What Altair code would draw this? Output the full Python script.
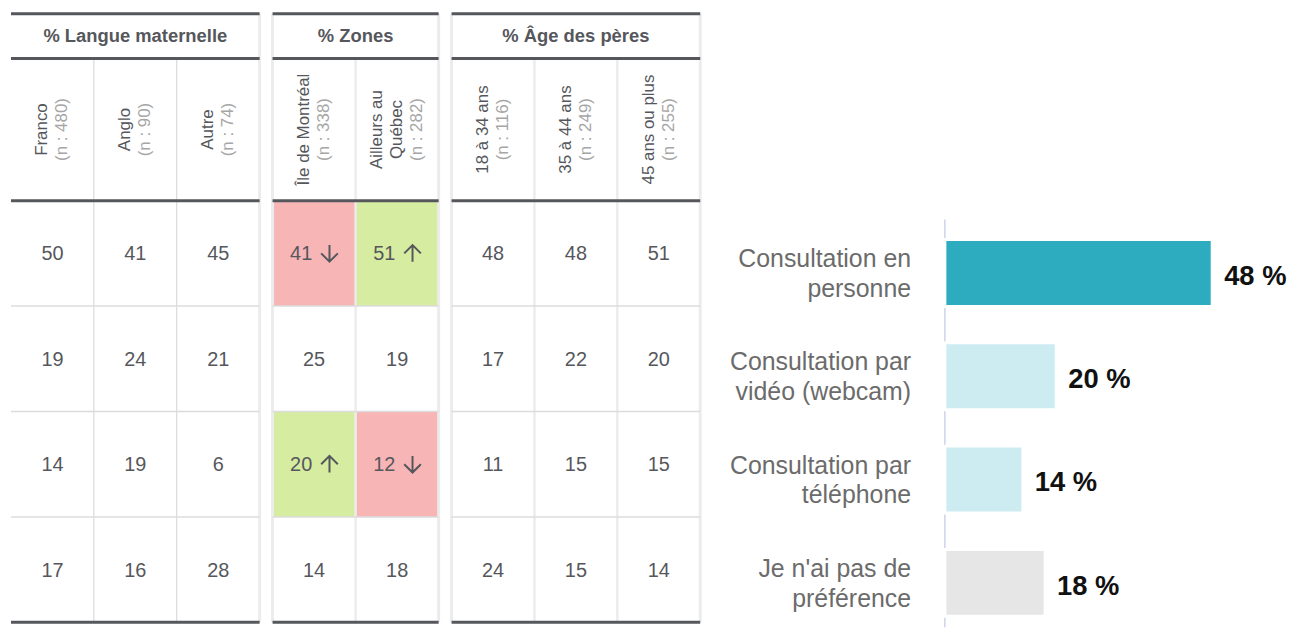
import altair as alt
import pandas as pd

FONT = "Liberation Sans"

# ---------------- data ----------------
group_titles = ["% Langue maternelle", "% Zones", "% Âge des pères"]

lang_cols = ["Franco", "Anglo", "Autre"]
lang_n = [480, 90, 74]
zone_cols = ["Île de Montréal", "Ailleurs au\nQuébec"]
zone_n = [338, 282]
age_cols = ["18 à 34 ans", "35 à 44 ans", "45 ans ou plus"]
age_n = [116, 249, 255]

modes = [
    "Consultation en\npersonne",
    "Consultation par\nvidéo (webcam)",
    "Consultation par\ntéléphone",
    "Je n'ai pas de\npréférence",
]
total_pct = [48, 20, 14, 18]

lang_values = [[50, 41, 45], [19, 24, 21], [14, 19, 6], [17, 16, 28]]
zone_values = [[41, 51], [25, 19], [20, 12], [14, 18]]
age_values = [[48, 48, 51], [17, 22, 20], [11, 15, 15], [24, 15, 14]]

lang_signif = [["", "", ""]] * 4
zone_signif = [["bas", "haut"], ["", ""], ["haut", "bas"], ["", ""]]
age_signif = [["", "", ""]] * 4

bar_colors = ["#2eacbf", "#cdecf1", "#cdecf1", "#e6e6e6"]

# ---------------- layout / style ----------------
H = 612
TITLE_H = 45
HEAD_H = 143
BODY_TOP = TITLE_H + HEAD_H
ROW_H = (H - BODY_TOP) / 4
OUTER = (H / ROW_H - 4) / 2
COL_W = 250 / 3
LH = 20

THICK = "#55575c"
TXT = "#55575c"
NTXT = "#a6a6a6"
PINK = "#f7b5b6"
GREEN = "#d5eca1"
EDGE = "#ececec"
ROWSEP = "#dcdcdc"

ARROW_DOWN = "M0,-1L0,1M-1,0L0,1L1,0"
ARROW_UP = "M0,1L0,-1M-1,0L0,-1L1,0"


def group_chart(title, cols, ns, values, signif, width, edges, inner_color, inner_width):
    xsc = alt.Scale(domain=cols, paddingInner=0, paddingOuter=0)
    ysc = alt.Scale(domain=modes, paddingInner=0, paddingOuter=OUTER, align=1)
    X = alt.X("col:N", scale=xsc, axis=None)
    Y = alt.Y("row:N", scale=ysc, axis=None)
    colw = width / len(cols)

    line_recs = []
    for c, n in zip(cols, ns):
        lines = c.split("\n") + [f"(n : {n})"]
        for idx, t in enumerate(lines):
            line_recs.append({"col": c, "txt": t, "idx": idx, "nl": len(lines)})
    head_df = pd.DataFrame(line_recs)

    recs = []
    for i, m in enumerate(modes):
        for j, c in enumerate(cols):
            recs.append({"row": m, "col": c, "val": values[i][j], "sig": signif[i][j]})
    body_df = pd.DataFrame(recs)
    one = pd.DataFrame({"t": [title]})

    layers = []
    hi = body_df[body_df.sig != ""]
    lo = body_df[body_df.sig == ""]
    if len(hi):
        layers.append(
            alt.Chart(hi).mark_rect().encode(
                x=X, y=Y,
                color=alt.Color("sig:N", scale=alt.Scale(domain=["bas", "haut"], range=[PINK, GREEN]),
                                legend=None),
            )
        )
    # internal vertical separators
    layers.append(
        alt.Chart(pd.DataFrame({"col": cols[1:]})).mark_rule(color=inner_color,
                                                            strokeWidth=inner_width).encode(
            x=alt.X("col:N", scale=xsc, axis=None, bandPosition=0),
            y=alt.value(TITLE_H), y2=alt.value(H),
        )
    )
    # group edges
    for e in edges:
        layers.append(
            alt.Chart(one).mark_rule(color=EDGE, strokeWidth=3).encode(
                x=alt.value(0 if e == "left" else width), y=alt.value(0), y2=alt.value(H)
            )
        )
    # row separators
    layers.append(
        alt.Chart(pd.DataFrame({"row": modes[1:]})).mark_rule(color=ROWSEP, strokeWidth=1.5).encode(
            y=alt.Y("row:N", scale=ysc, axis=None, bandPosition=0),
            x=alt.value(0), x2=alt.value(width),
        )
    )
    # thick lines
    for yy in [0, TITLE_H, BODY_TOP, H]:
        layers.append(
            alt.Chart(one).mark_rule(color=THICK, strokeWidth=3).encode(
                x=alt.value(0), x2=alt.value(width), y=alt.value(yy)
            )
        )
    # group title
    layers.append(
        alt.Chart(one).mark_text(font=FONT, fontSize=18.5, fontWeight="bold", color=TXT,
                                 align="center", baseline="middle").encode(
            x=alt.value(width / 2), y=alt.value(TITLE_H / 2), text="t:N"
        )
    )
    # column headers (rotated), one layer per line slot
    hy = TITLE_H + HEAD_H / 2
    for (idx, nl), sub in head_df.groupby(["idx", "nl"]):
        layers.append(
            alt.Chart(sub).mark_text(font=FONT, fontSize=17,
                                     color=NTXT if idx == nl - 1 else TXT,
                                     angle=270, align="center", baseline="middle",
                                     dy=(idx - (nl - 1) / 2) * LH).encode(
                x=X, y=alt.value(hy), text="txt:N"
            )
        )
    # values
    layers.append(
        alt.Chart(lo).mark_text(font=FONT, fontSize=20, color=TXT, align="center",
                                baseline="middle", dy=1).encode(
            x=X, y=Y, text="val:Q"
        )
    )
    if len(hi):
        layers.append(
            alt.Chart(hi).mark_text(font=FONT, fontSize=20, color=TXT, align="center",
                                    baseline="middle", dy=1, dx=-13).encode(
                x=X, y=Y, text="val:Q"
            )
        )
        layers.append(
            alt.Chart(hi).mark_point(filled=False, color=TXT, opacity=1, strokeWidth=2,
                                     size=280).encode(
                x=X, y=Y, xOffset=alt.value(colw / 2 + 15.5),
                shape=alt.Shape("sig:N", scale=alt.Scale(domain=["bas", "haut"],
                                                         range=[ARROW_DOWN, ARROW_UP]),
                                legend=None),
            )
        )
    return alt.layer(*layers).properties(width=width, height=H)


g1 = group_chart(group_titles[0], lang_cols, lang_n, lang_values, lang_signif,
                 3 * COL_W, ["right"], "#d2d2d2", 1)
g2 = group_chart(group_titles[1], zone_cols, zone_n, zone_values, zone_signif,
                 167, ["left", "right"], EDGE, 2.5)
g3 = group_chart(group_titles[2], age_cols, age_n, age_values, age_signif,
                 3 * COL_W, ["left", "right"], EDGE, 2.5)

# ---------------- bar chart ----------------
BAR_W = 568
BAR_H = 617
X0 = 233
bars_df = pd.DataFrame({"mode": modes, "pct": total_pct, "lab": [f"{v} %" for v in total_pct]})
xsc_b = alt.Scale(domain=[0, 60], rangeMin=X0, rangeMax=X0 + 336)
bx = alt.X("pct:Q", scale=xsc_b, axis=None)
by = alt.Y("mode:N", scale=alt.Scale(domain=modes, range=[196, 637], paddingInner=0.353, paddingOuter=0.3),
           axis=None)
one_b = pd.DataFrame({"t": [0]})

axis_line = alt.Chart(one_b).mark_rule(color="#cdd4ea", strokeWidth=1.5).encode(
    x=alt.X("t:Q", scale=xsc_b, axis=None),
    y=alt.value(207), y2=alt.value(BAR_H),
)
bars = alt.Chart(bars_df).mark_bar(stroke="white", strokeWidth=3).encode(
    x=bx, y=by,
    color=alt.Color("mode:N", scale=alt.Scale(domain=modes, range=bar_colors), legend=None),
)
cat_labels = alt.Chart(bars_df).mark_text(font=FONT, fontSize=25, lineHeight=30, color="#6b6b6b",
                                          align="right", baseline="middle", dx=-34, dy=-14,
                                          lineBreak="\n").encode(
    x=alt.value(X0), y=by, text="mode:N"
)
val_labels = alt.Chart(bars_df).mark_text(font=FONT, fontSize=27.5, fontWeight="bold", color="#111111",
                                          align="left", baseline="middle", dx=12, dy=4).encode(
    x=bx, y=by, text="lab:N"
)
bar_chart = alt.layer(axis_line, bars, cat_labels, val_labels).properties(width=BAR_W, height=BAR_H)

chart = alt.hconcat(g1, g2, g3, bar_chart, spacing=13, bounds="flush").resolve_scale(
    color="independent", shape="independent"
).properties(
    padding={"left": 1, "top": 2, "right": 0, "bottom": 0}
).configure_view(strokeWidth=0)

chart.save("out.html", embed_options={"renderer": "svg", "actions": False})
